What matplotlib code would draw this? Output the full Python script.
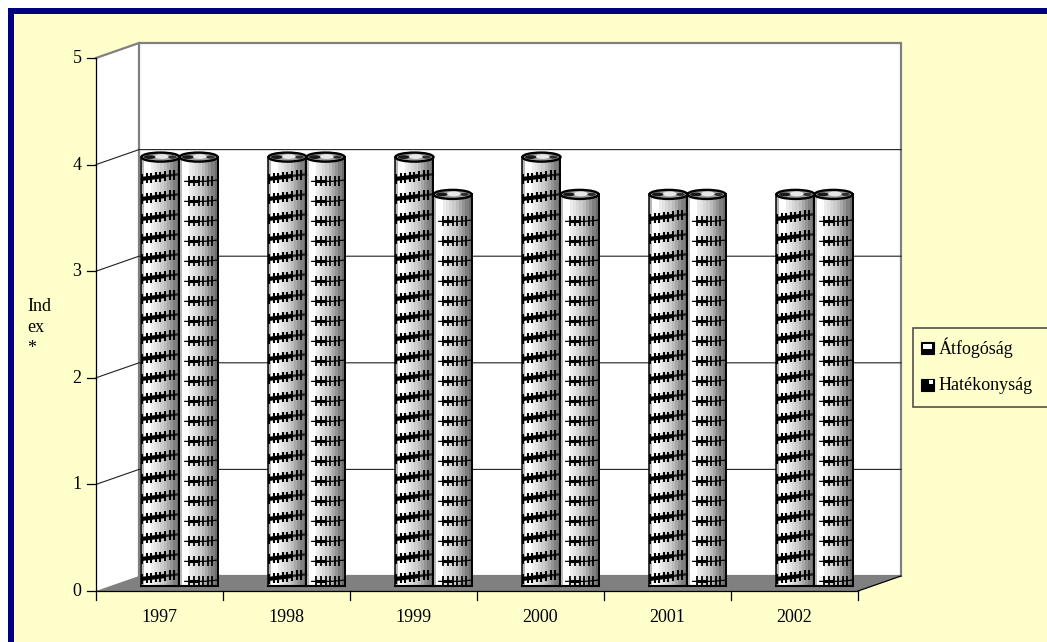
import numpy as np
import matplotlib
matplotlib.use("Agg")
from matplotlib import pyplot as plt
from matplotlib.colors import ListedColormap
from matplotlib.patches import Ellipse, Polygon, Rectangle

plt.rcParams['font.family'] = ['Liberation Serif', 'DejaVu Serif']
plt.rcParams['font.size'] = 13

# Adatok
years = ['1997', '1998', '1999', '2000', '2001', '2002']
atfogosag = [4.0, 4.0, 4.0, 4.0, 3.65, 3.65]
hatekonysag = [4.0, 4.0, 3.65, 3.65, 3.65, 3.65]
series_names = ['Átfogóság', 'Hatékonyság']
y_ticks = [0, 1, 2, 3, 4, 5]

W, H = 1047, 642
YELLOW = '#FFFFCC'
NAVY = '#000080'

# 3D look: the back wall is shifted from the front plane by this much
DEPTH_X = 43 / 127
DEPTH_Y = 15 / 106.6
BAR_W = 0.30
BAND_STEP = 20 / 106.6

# Cylinder shading, left to right
shade = ListedColormap(['#b8b8b8', '#ffffff', '#ffffff', '#ececec', '#e4e4e4', '#d8d8d8',
                        '#cccccc', '#bcbcbc', '#a8a8a8', '#949494', '#808080', '#6c6c6c'])
shade_row = np.arange(12).reshape(1, -1)


def fig_rect(x0, y0, x1, y1, zorder=3, **kw):
    # rectangle given in pixels from the top left corner
    fig.add_artist(Rectangle((x0 / W, 1 - y1 / H), (x1 - x0) / W, (y1 - y0) / H,
                             transform=fig.transFigure, zorder=zorder, **kw))


def draw_cylinder(center, value, thick):
    mid = BAR_W / 2
    left, right = center - mid, center + mid
    base = 0.5 * DEPTH_Y
    top = value + base
    ax.imshow(shade_row, cmap=shade, aspect='auto', interpolation='nearest',
              extent=(left, right, base - 0.02, top), zorder=3)

    # texture bands around the column
    start = 0.065 if thick else 0.02
    for b in np.arange(base + start, top - 0.1, BAND_STEP):
        xs = np.linspace(left + 0.005, right - 0.005, 9)
        if thick:
            ys = b + (xs - center) * 0.15
            ax.plot(xs[:6], ys[:6], color='black', lw=3.0, zorder=4, solid_capstyle='butt')
            ax.plot(xs[5:], ys[5:], color='#202020', lw=1.7, zorder=4)
            ax.plot(xs[:-1], ys[:-1], ls='none', marker='|', ms=6.5, mew=1.5, color='black', zorder=4)
        else:
            ys = b + np.where(xs > center + 0.05, (xs - center - 0.05) * 0.12, 0)
            ax.plot(xs[1:], ys[1:], color='black', lw=0.9, zorder=4)
            ax.plot(xs[2:5], ys[2:5], color='black', lw=2.2, zorder=4, solid_capstyle='butt')
            ax.plot(xs[2:-1], ys[2:-1], ls='none', marker='|', ms=6.5, mew=1.3, color='black', zorder=4)

    # outline and top cap
    ax.plot([left, left], [base - 0.02, top], color='black', lw=1.1, zorder=5)
    ax.plot([right, right], [base - 0.02, top], color='black', lw=1.4, zorder=5)
    ax.plot([left, right], [base - 0.025, base - 0.025], color='black', lw=1.5, zorder=5)
    ax.add_patch(Ellipse((center, top), BAR_W, 0.085, fc='#a0a0a0', ec='black', lw=1.7, zorder=6))
    ax.add_patch(Ellipse((center + 0.01, top + 0.005), BAR_W * 0.36, 0.045, fc='#e8e8e8',
                         ec='none', zorder=6))
    ax.add_patch(Ellipse((center - 0.085, top), BAR_W * 0.3, 0.035, fc='#181818',
                         ec='none', zorder=6))
    ax.add_patch(Ellipse((center + 0.095, top), BAR_W * 0.22, 0.03, fc='#303030',
                         ec='none', zorder=6))


fig = plt.figure(figsize=(W / 100, H / 100), dpi=100, facecolor='white')

# Keret és háttér
fig_rect(8, 8, W, H, zorder=-2, fc=NAVY, ec='none')
fig_rect(14, 14, W, H, zorder=-1, fc=YELLOW, ec='none')

ax = fig.add_axes([96 / W, (H - 591) / H, 762 / W, 533 / H])
ax.set_zorder(1)
ax.axis('off')
n = len(years)

# side wall, back wall and floor
ax.add_patch(Polygon([(0, 0), (DEPTH_X, DEPTH_Y), (DEPTH_X, 5 + DEPTH_Y), (0, 5)],
                     fc='white', ec='none', zorder=1, clip_on=False))
ax.add_patch(Rectangle((DEPTH_X, DEPTH_Y), n, 5, fc='white', ec='#808080', lw=1.6,
                       zorder=1, clip_on=False))
ax.add_patch(Polygon([(0, 0), (n, 0), (n + DEPTH_X, DEPTH_Y), (DEPTH_X, DEPTH_Y)],
                     fc='#808080', ec='none', zorder=2, clip_on=False))

# gridlines on both walls
for v in y_ticks[1:-1]:
    ax.plot([0, DEPTH_X, n + DEPTH_X], [v, v + DEPTH_Y, v + DEPTH_Y], color='#202020', lw=0.8,
            zorder=2, clip_on=False)
ax.plot([0, DEPTH_X], [5, 5 + DEPTH_Y], color='#808080', lw=1.6, zorder=2, clip_on=False)

# axes lines and ticks
ax.plot([0, 0], [0, 5], color='black', lw=0.9, zorder=2, clip_on=False)
ax.plot([0, n], [0, 0], color='black', lw=0.9, zorder=7, clip_on=False)
ax.plot([n, n + DEPTH_X], [0, DEPTH_Y], color='black', lw=0.9, zorder=2, clip_on=False)
for v in y_ticks:
    ax.plot([-0.07, 0], [v, v], color='black', lw=0.9, clip_on=False)
    ax.text(-0.15, v - 0.005, str(v), ha='center', va='center')
for i in range(n + 1):
    ax.plot([i, i], [0, -0.08], color='black', lw=0.9, clip_on=False)
for i, year in enumerate(years):
    ax.text(i + 0.5, -0.245, year, ha='center', va='center')

# Oszlopok
for i in range(n):
    middle = i + 0.5 + 0.465 * DEPTH_X
    draw_cylinder(middle - BAR_W / 2, atfogosag[i], True)
    draw_cylinder(middle + BAR_W / 2, hatekonysag[i], False)

ax.set_xlim(0, n)
ax.set_ylim(0, 5)

fig.text(27 / W, 1 - 298 / H, 'Ind\nex\n*', ha='left', va='top', linespacing=1.3, zorder=3)

# Jelmagyarázat
fig_rect(913, 328, W + 5, 407, fc=YELLOW, ec='#505050', lw=1.2)
for name, y, filled in zip(series_names, [348, 385], [False, True]):
    fig_rect(921, y - 6, 934, y + 6, zorder=4, fc='black', ec='black', lw=0.8)
    if filled:
        fig_rect(929, y - 5, 933, y - 1, zorder=5, fc='white', ec='none')
    else:
        fig_rect(923, y - 4, 932, y + 1, zorder=5, fc='white', ec='none')
    fig.text(939 / W, 1 - y / H, name, ha='left', va='center', zorder=5)

fig.savefig('out.png', dpi=100)
